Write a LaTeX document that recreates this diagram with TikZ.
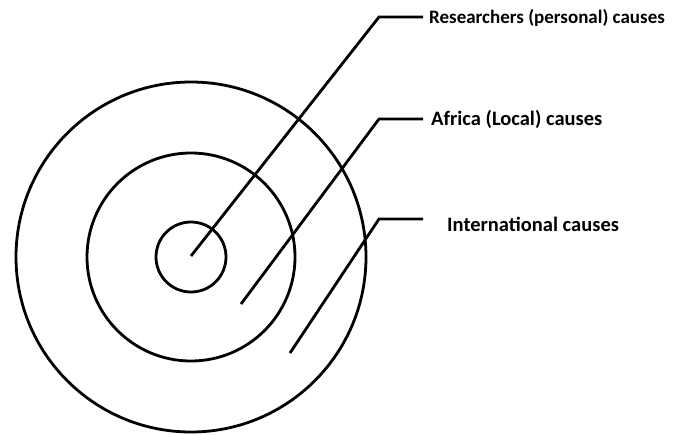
\documentclass[tikz,border=0pt]{standalone}
\usepackage{fontspec}
\setmainfont{Carlito}
\tikzset{
  ring/.style={circle, draw, line width=2.8pt, inner sep=0pt},
  lbl/.style={anchor=west, inner sep=0pt, font=\bfseries\fontsize{20.5}{22}\selectfont},
  lead/.style={line width=2.8pt}
}
\begin{document}
\begin{tikzpicture}[x=1pt, y=-1pt]
\useasboundingbox (0,0) rectangle (682,434);

\node [ring, minimum size=350pt] (c3) at (191,257) {};
\node [ring, minimum size=208pt] (c2) at (191,257) {};
\node [ring, minimum size=70pt] (c1) at (191,257) {};

\coordinate (p1) at (191,256);
\coordinate (p2) at (241,304);
\coordinate (p3) at (290,353);
\coordinate (k1) at (379,17);
\coordinate (k2) at (379,119);
\coordinate (k3) at (379,219);
\coordinate (e1) at (423,17);
\coordinate (e2) at (423,119);
\coordinate (e3) at (423,219);

\node [lbl, font=\bfseries\fontsize{19}{21}\selectfont] (t1) at (429,18) {Researchers (personal) causes};
\node [lbl] (t2) at (431,119) {Africa (Local) causes};
\node [lbl] (t3) at (447,224) {International causes};

\draw [lead] (p1) -- (k1) -- (e1);
\draw [lead] (p2) -- (k2) -- (e2);
\draw [lead] (p3) -- (k3) -- (e3);
\end{tikzpicture}
\end{document}
